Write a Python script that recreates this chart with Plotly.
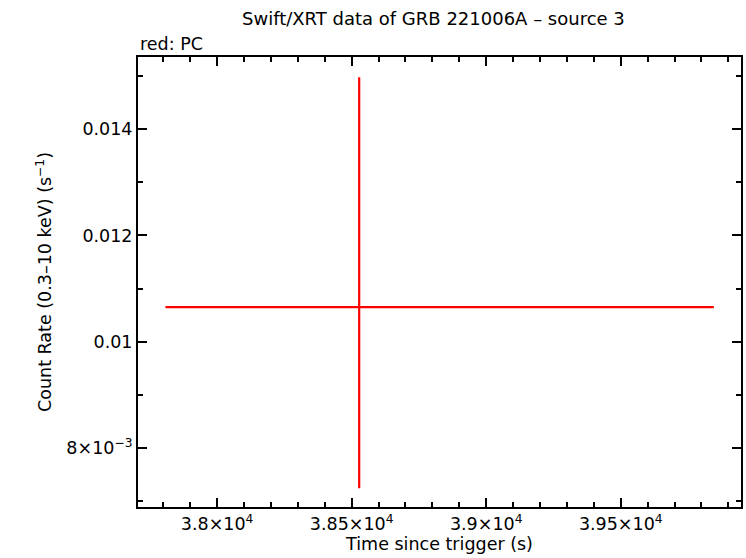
import plotly.graph_objects as go

# Swift/XRT PC-mode point for source 3
time = [38528]
time_err_minus = [720]
time_err_plus = [1318]
rate = [0.01065]
rate_err_minus = [0.003415]
rate_err_plus = [0.00433]

x_tickvals = [38000, 38500, 39000, 39500]
x_ticktext = ["3.8×10<sup>4</sup>", "3.85×10<sup>4</sup>", "3.9×10<sup>4</sup>", "3.95×10<sup>4</sup>"]
y_tickvals = [0.008, 0.010, 0.012, 0.014]
y_ticktext = ["8×10<sup>−3</sup>", "0.01", "0.012", "0.014"]

font = dict(family="DejaVu Sans, sans-serif", size=17.5, color="black")
title_font = dict(family="DejaVu Sans, sans-serif", size=18, color="black")

fig = go.Figure(go.Scatter(
    x=time, y=rate, mode="markers",
    marker=dict(size=1, color="red"),
    error_x=dict(type="data", symmetric=False, array=time_err_plus, arrayminus=time_err_minus,
                 color="red", thickness=2.2, width=0),
    error_y=dict(type="data", symmetric=False, array=rate_err_plus, arrayminus=rate_err_minus,
                 color="red", thickness=2.2, width=0),
    showlegend=False,
))

axis_style = dict(
    showline=True, linecolor="black", linewidth=2, mirror="allticks",
    ticks="inside", ticklen=9, tickwidth=2, tickcolor="black",
    showgrid=False, zeroline=False, tickfont=font,
)

fig.update_xaxes(
    range=[37706, 39947], tickvals=x_tickvals, ticktext=x_ticktext,
    minor=dict(dtick=100, tick0=38000, ticks="inside", ticklen=5, tickwidth=2, tickcolor="black"),
    title=dict(text="Time since trigger (s)", font=font, standoff=0),
    **axis_style,
)
fig.update_yaxes(
    range=[0.006883, 0.015362], tickvals=y_tickvals, ticktext=y_ticktext,
    minor=dict(dtick=0.001, tick0=0.006, ticks="inside", ticklen=5, tickwidth=2, tickcolor="black"),
    title=dict(text="Count Rate (0.3–10 keV) (s<sup>−1</sup>)", font=font, standoff=10),
    **axis_style,
)

plot_h = 558 - 57 - 51
fig.update_layout(
    width=746, height=558,
    margin=dict(l=138, r=3, t=57, b=51),
    plot_bgcolor="white", paper_bgcolor="white",
    font=font,
    annotations=[
        dict(text="Swift/XRT data of GRB 221006A – source 3", x=0.49, y=1 + (57 - 19) / plot_h,
             xref="paper", yref="paper", showarrow=False, font=title_font,
             xanchor="center", yanchor="middle"),
        dict(text="red: PC", x=0, y=1, xref="paper", yref="paper", showarrow=False,
             font=font, xanchor="left", yanchor="bottom", yshift=1),
    ],
)

fig.write_html(
    "out.html",
    config={"responsive": False, "displayModeBar": False},
    post_script="document.body.style.margin='0';document.body.style.overflow='hidden';",
)
